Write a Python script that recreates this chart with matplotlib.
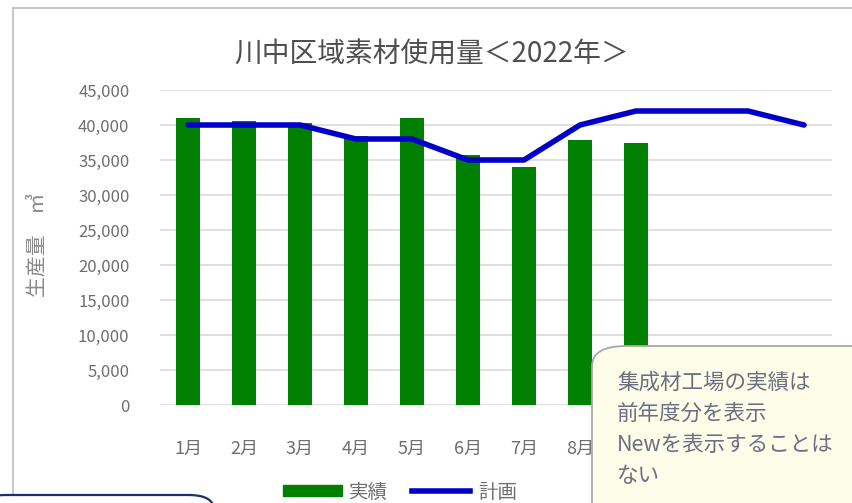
import matplotlib
matplotlib.use("Agg")
import matplotlib.pyplot as plt
from matplotlib.patches import FancyBboxPatch, Rectangle
from matplotlib.lines import Line2D
from matplotlib.ticker import FuncFormatter

plt.rcParams['font.family'] = ['Noto Sans CJK JP', 'DejaVu Sans']

months = ['1月', '2月', '3月', '4月', '5月', '6月', '7月', '8月', '9月', '10月', '11月', '12月']
actual = [41000, 40600, 40300, 38400, 41000, 35700, 34000, 37900, 37400]
plan = [40000, 40000, 40000, 38000, 38000, 35000, 35000, 40000, 42000, 42000, 42000, 40000]
title = '川中区域素材使用量＜2022年＞'
note_lines = ['集成材工場の実績は', '前年度分を表示', 'Newを表示することは', 'ない']

W, H = 852, 503
fig = plt.figure(figsize=(W / 100, H / 100), dpi=100)


def fx(px):
    return px / W


def fy(py):
    return 1 - py / H


# chart outer frame
fig.patches.append(Rectangle((fx(13), fy(900)), 2, fy(8) - fy(900), transform=fig.transFigure,
                             fill=False, edgecolor='#c8c8c8', linewidth=1.5, zorder=0))

ax = fig.add_axes([fx(160), fy(405), fx(832) - fx(160), fy(90) - fy(405)])
gray = '#6e6e6e'

x = range(len(months))
ax.bar(range(len(actual)), actual, width=0.43, color='#008000', zorder=2)
ax.plot(x, plan, color='#0000c8', linewidth=4, solid_joinstyle='round',
        solid_capstyle='round', zorder=3)

ax.set_xlim(-0.5, len(months) - 0.5)
ax.set_ylim(0, 45000)
ax.set_yticks(range(0, 45001, 5000))
ax.yaxis.set_major_formatter(FuncFormatter(lambda v, p: f'{int(v):,}'))
ax.set_xticks(list(x))
ax.set_xticklabels(months)
ax.tick_params(axis='y', length=0, pad=22, labelsize=12, labelcolor=gray)
ax.tick_params(axis='x', length=0, pad=25, labelsize=13, labelcolor=gray)
# labels from 9月 on lie under the note box
for lbl in ax.get_xticklabels()[8:]:
    lbl.set_visible(False)
ax.grid(axis='y', color='#d9d9d9', linewidth=1.2, zorder=0)
for s in ax.spines.values():
    s.set_visible(False)
ax.set_axisbelow(True)

fig.text(fx(432), fy(55), title, ha='center', va='center', fontsize=20, color='#4f4f4f')
fig.text(fx(38), fy(245), '生産量　㎥', ha='center', va='center', rotation=90,
         fontsize=15, color='#8a8a8a')

# legend
handles = [Rectangle((0, 0), 1, 1, color='#008000'),
           Line2D([0], [0], color='#0000c8', linewidth=4)]
fig.legend(handles, ['実績', '計画'], loc='center', bbox_to_anchor=(fx(400), fy(492)),
           ncol=2, frameon=False, fontsize=14, labelcolor=gray, handlelength=3.0,
           handleheight=0.5, columnspacing=1.2, handletextpad=0.4)

# note box
note = FancyBboxPatch((fx(592), fy(560)), fx(300), fy(346) - fy(560),
                      boxstyle='round,pad=0,rounding_size=0.04', transform=fig.transFigure,
                      facecolor='#fdfdea', edgecolor='#a8a8a8', linewidth=1.3, zorder=5)
fig.patches.append(note)
for i, line in enumerate(note_lines):
    fig.text(fx(617), fy(383 + 31 * i), line, ha='left', va='center', fontsize=15.5,
             color='#6a7080', zorder=6)

# bottom-left box
box = FancyBboxPatch((fx(-20), fy(560)), fx(234), fy(495) - fy(560),
                     boxstyle='round,pad=0,rounding_size=0.03', transform=fig.transFigure,
                     facecolor='white', edgecolor='#1f2f6b', linewidth=1.6, zorder=5)
fig.patches.append(box)

fig.savefig('out.png', dpi=100)
